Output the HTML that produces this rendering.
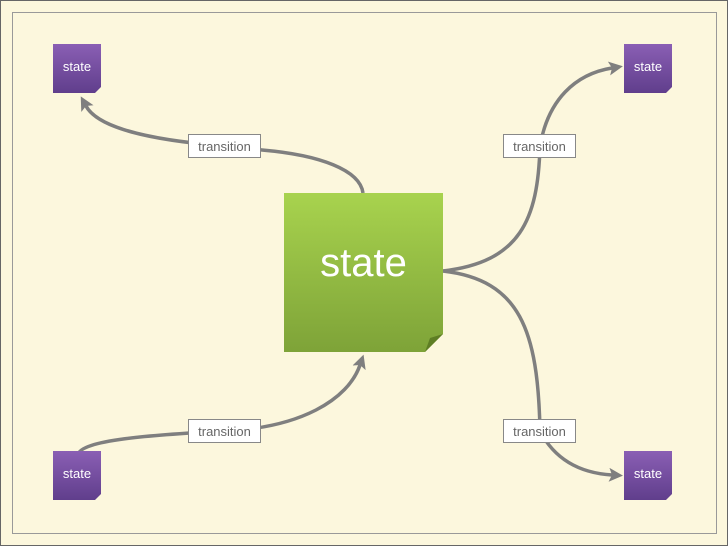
<!DOCTYPE html>
<html><head><meta charset="utf-8"><style>
html,body{margin:0;padding:0;background:#fff}
svg{display:block}
text{font-family:"Liberation Sans",sans-serif}
</style></head><body>
<svg width="728" height="546" viewBox="0 0 728 546" xmlns="http://www.w3.org/2000/svg">
<defs>
<linearGradient id="g" x1="0" y1="0" x2="0" y2="1"><stop offset="0" stop-color="#a8d34e"/><stop offset="1" stop-color="#7ea338"/></linearGradient>
<linearGradient id="p" x1="0" y1="0" x2="0" y2="1"><stop offset="0" stop-color="#8a5fb4"/><stop offset="1" stop-color="#603e8c"/></linearGradient>
<marker id="a" markerWidth="14" markerHeight="14" refX="3" refY="7" orient="auto" markerUnits="userSpaceOnUse"><path d="M0,0 L14,7 L0,14 L3,7 Z" fill="#7f7f7f"/></marker>
</defs>
<rect x="0.5" y="0.5" width="727" height="545" fill="#fcf7dd" stroke="#666"/>
<rect x="12.5" y="12.5" width="704" height="521" fill="none" stroke="#999"/>
<g fill="none" stroke="#7f7f7f" stroke-width="3.5">
<path d="M363,193 C360,170 320,155 262,150 L224,146 C150,140 98,128 86,106" marker-end="url(#a)"/>
<path d="M443,271 C520,262 538,220 540,146 C548,100 575,74 612,68" marker-end="url(#a)"/>
<path d="M443,271 C520,280 538,330 540,431 C555,460 580,473 612,475" marker-end="url(#a)"/>
<path d="M78,455 C80,440 150,435 224,431 C300,428 348,400 360,365" marker-end="url(#a)"/>
</g>
<g>
<path d="M284,193 H443 V334 L425,352 H284 Z" fill="url(#g)"/>
<path d="M443,334 L425,352 L430,338 Z" fill="#5e7e24"/>
<text x="363.5" y="276" font-size="40" fill="#fff" text-anchor="middle">state</text>
</g>
<g font-size="13" fill="#fff" text-anchor="middle">
<path d="M53,44 H101 V87 L95,93 H53 Z" fill="url(#p)"/><text x="77" y="71">state</text>
<path d="M624,44 H672 V87 L666,93 H624 Z" fill="url(#p)"/><text x="648" y="71">state</text>
<path d="M53,451 H101 V494 L95,500 H53 Z" fill="url(#p)"/><text x="77" y="478">state</text>
<path d="M624,451 H672 V494 L666,500 H624 Z" fill="url(#p)"/><text x="648" y="478">state</text>
</g>
<g font-size="13" fill="#666" text-anchor="middle">
<rect x="188.5" y="134.5" width="72" height="23" fill="#fff" stroke="#888"/><text x="224.5" y="151">transition</text>
<rect x="503.5" y="134.5" width="72" height="23" fill="#fff" stroke="#888"/><text x="539.5" y="151">transition</text>
<rect x="188.5" y="419.5" width="72" height="23" fill="#fff" stroke="#888"/><text x="224.5" y="436">transition</text>
<rect x="503.5" y="419.5" width="72" height="23" fill="#fff" stroke="#888"/><text x="539.5" y="436">transition</text>
</g>
</svg>
</body></html>
